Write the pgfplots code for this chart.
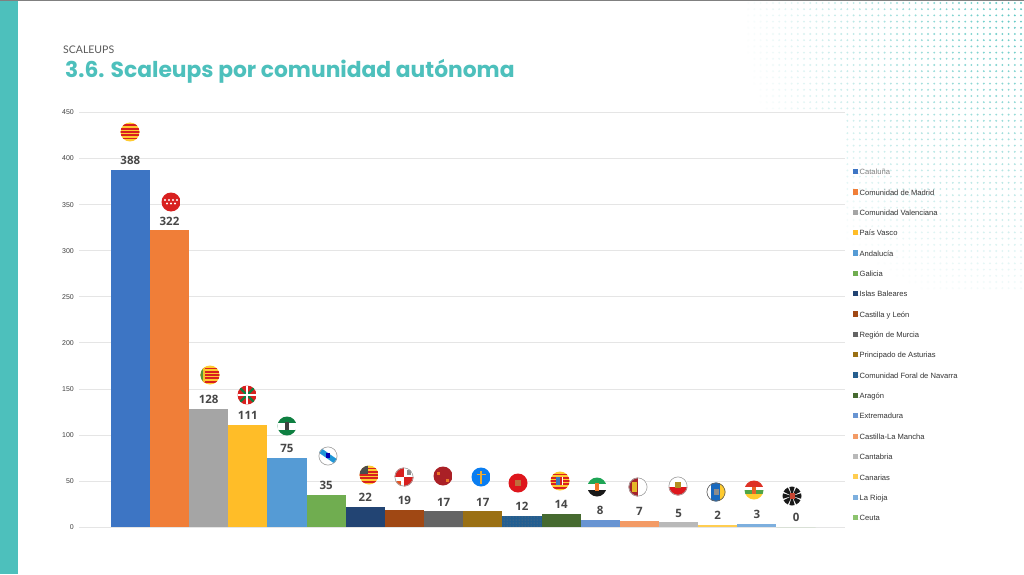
\documentclass[border=0pt]{standalone}
\usepackage{fontspec}
\setmainfont{Liberation Sans}
\newfontfamily\titlefont{Poppins}
\newfontfamily\subfont{Lato}
\newfontfamily\labfont{Open Sans}
\usepackage{pgfplots}
\pgfplotsset{compat=1.18}
\usetikzlibrary{patterns}
\definecolor{teal1}{HTML}{4DC0BC}
\definecolor{dotc}{HTML}{45BFBA}
\definecolor{fr}{HTML}{D8201F}
\definecolor{fy}{HTML}{FFCB2E}
\definecolor{fg}{HTML}{0E7F41}
\definecolor{galb}{RGB}{30,150,215}
\definecolor{ast}{RGB}{10,125,240}
\definecolor{astg}{RGB}{235,170,50}
\definecolor{nav}{RGB}{222,22,28}
\definecolor{navg}{RGB}{190,110,60}
\definecolor{mur}{RGB}{170,32,38}
\definecolor{arab}{RGB}{60,120,190}
\definecolor{extg}{RGB}{30,165,85}
\definecolor{clm}{RGB}{165,35,45}
\definecolor{canb}{RGB}{25,105,190}
\definecolor{rior}{RGB}{222,50,38}
\definecolor{riog}{RGB}{80,165,70}
\definecolor{ceur}{RGB}{200,70,50}
\newcommand{\flag}[3]{\begin{scope}[shift={(#1,574-#2)}]
\begin{scope}\clip (0,0) circle (9.5);
\fill[white] (-10,-10) rectangle (10,10);
#3
\end{scope}
\end{scope}}
\newcommand{\ring}{\draw[black!35,line width=0.7pt] (0,0) circle (9.1);}
\newcommand{\stripes}{\fill[fy] (-10,-10) rectangle (10,10);
\foreach \s in {-6.6,-3.3,0,3.3,6.6}{\fill[fr] (-10,\s-0.9) rectangle (10,\s+0.9);}}
\begin{document}
\begin{tikzpicture}[x=1pt,y=1pt]
\path[fill=white] (0,0) rectangle (1024,574);
% halftone
\foreach \i in {0,...,44}{
 \foreach \j in {0,...,46}{
  \pgfmathsetmacro{\px}{1021-6.2*\i}
  \pgfmathsetmacro{\py}{3+6.2*\j}
  \pgfmathsetmacro{\dd}{sqrt(((1024-\px)/285)^2+(\py/315)^2)}
  \pgfmathsetmacro{\aa}{max(0,90*(1-\dd))}
  \pgfmathparse{\aa>1.5?1:0}
  \ifnum\pgfmathresult=1
   \fill[dotc!\aa!white] (\px,574-\py) circle (1.05);
  \fi
 }
}
\fill[white] (18,0) rectangle (846,462);
\fill[teal1] (0,0) rectangle (18,574);
\fill[black!50] (0,573) rectangle (1024,574);
\node[anchor=base west,inner sep=0,font=\subfont\fontsize{10.5}{12}\selectfont,text=black!65] at (63,520) {SCALEUPS};
\node[anchor=base west,inner sep=0,font=\titlefont\bfseries\fontsize{21.8}{26}\selectfont,text=teal1] at (65,496) {3.6. Scaleups por comunidad autónoma};
\begin{scope}[shift={(79,47)}]
\begin{axis}[
 scale only axis,width=766pt,height=414.5pt,
 xmin=-1.31,xmax=18.25,ymin=0,ymax=450,
 ytick={0,50,...,450},xtick=\empty,
 axis line style={draw=none},
 tick style={draw=none},
 ymajorgrids,grid style={black!10,line width=0.6pt},
 /pgf/number format/assume math mode=true,
 yticklabel style={font=\fontsize{7}{8}\selectfont,text=black!75,inner sep=0pt,xshift=-5pt},
 ybar=0pt,bar width=1,
 every axis plot/.append style={bar shift=0pt,draw=none,
   legend image code/.code={\path[##1,draw=none] (0,-0.9pt) rectangle (5.2pt,4.3pt);\path (0,0) -- (6.6pt,0);}},
 nodes near coords,
 every node near coord/.style={font=\labfont\bfseries\fontsize{11.5}{12}\selectfont,text=black!72,anchor=south,inner sep=0pt,yshift=5pt},
 legend style={at={(rel axis cs:0,0)},anchor=south west,xshift=774pt,yshift=3.3pt,draw=none,fill=none,inner sep=0pt,outer sep=0pt,
   row sep=11.35pt,font=\fontsize{7.6}{9}\selectfont,text=black!80,
   nodes={inner sep=0pt,text height=6pt,text depth=3pt}},
 legend cell align=left,
 legend columns=1,
]
\addplot[fill={rgb,255:red,61;green,117;blue,196}] coordinates {(0,388)};
\addplot[fill={rgb,255:red,240;green,126;blue,56}] coordinates {(1,322)};
\addplot[fill={rgb,255:red,165;green,165;blue,165}] coordinates {(2,128)};
\addplot[fill={rgb,255:red,255;green,189;blue,40}] coordinates {(3,111)};
\addplot[fill={rgb,255:red,85;green,155;blue,213}] coordinates {(4,75)};
\addplot[fill={rgb,255:red,112;green,173;blue,80}] coordinates {(5,35)};
\addplot[fill={rgb,255:red,34;green,68;blue,115}] coordinates {(6,22)};
\addplot[fill={rgb,255:red,160;green,72;blue,20}] coordinates {(7,19)};
\addplot[fill={rgb,255:red,100;green,100;blue,100}] coordinates {(8,17)};
\addplot[fill={rgb,255:red,154;green,112;blue,20}] coordinates {(9,17)};
\addplot[fill={rgb,255:red,34;green,94;blue,145},postaction={pattern=dots,pattern color=black!55}] coordinates {(10,12)};
\addplot[fill={rgb,255:red,70;green,106;blue,48}] coordinates {(11,14)};
\addplot[fill={rgb,255:red,104;green,148;blue,210}] coordinates {(12,8)};
\addplot[fill={rgb,255:red,243;green,155;blue,102}] coordinates {(13,7)};
\addplot[fill={rgb,255:red,185;green,185;blue,185}] coordinates {(14,5)};
\addplot[fill={rgb,255:red,255;green,205;blue,80}] coordinates {(15,2)};
\addplot[fill={rgb,255:red,125;green,175;blue,222}] coordinates {(16,3)};
\addplot[fill={rgb,255:red,140;green,195;blue,110}] coordinates {(17,0)};
\legend{\textcolor{black!50}{Cataluña},Comunidad de Madrid,Comunidad Valenciana,País Vasco,Andalucía,Galicia,Islas Baleares,Castilla y León,Región de Murcia,Principado de Asturias,Comunidad Foral de Navarra,Aragón,Extremadura,Castilla-La Mancha,Cantabria,Canarias,La Rioja,Ceuta}
\end{axis}
\end{scope}
% flags
\flag{130}{132}{\stripes}
\flag{171}{202}{\fill[fr] (-10,-10) rectangle (10,10);
 \foreach \s in {-6,-2,2,6}{\fill[white] (\s,2) circle (1.1);}
 \foreach \s in {-4,0,4}{\fill[white] (\s,-1.5) circle (1.1);}}
\flag{210}{375}{\stripes \fill[black!5!fy] (-10,-10) rectangle (-5.5,10);\fill[fg!70!fy] (-10,-10) rectangle (-7,10);}
\flag{247}{395}{\fill[fr] (-10,-10) rectangle (10,10);
 \draw[fg,line width=2.4pt] (-10,-10)--(10,10) (-10,10)--(10,-10);
 \draw[white,line width=2.2pt] (-10,0)--(10,0) (0,-10)--(0,10);}
\flag{287}{426}{\fill[fg] (-10,-10) rectangle (10,10);\fill[white] (-10,-3.5) rectangle (10,3.5);
 \fill[black!75] (-1.8,-4) rectangle (1.8,4);}
\flag{328}{456}{\draw[line width=5pt,galb] (-10,7)--(10,-7);
 \fill[blue!70!black] (-2.5,-2) rectangle (2,3.5); \ring}
\flag{369}{475}{\stripes \fill[black!70] (-10,1) rectangle (-1,10);}
\flag{404}{477}{\fill[fr] (-10,0) rectangle (0,10);\fill[fr] (0,-10) rectangle (10,0);
 \fill[fr!70!fy] (-9,-9) rectangle (-3,-4);\fill[black!45] (3,2) rectangle (7,7);\ring}
\flag{443}{476}{\fill[mur] (-10,-10) rectangle (10,10);
 \fill[fr!50!fy] (-6,1) rectangle (-3,4);\fill[fr!50!fy] (3,-6) rectangle (6,-3);}
\flag{481}{477}{\fill[ast] (-10,-10) rectangle (10,10);
 \draw[astg,line width=1.1pt] (0,-6.5)--(0,6.5) (-4.5,2.5)--(4.5,2.5);}
\flag{518}{483}{\fill[nav] (-10,-10) rectangle (10,10);
 \fill[navg] (-3,-3) rectangle (3,3.5);}
\flag{560}{481}{\stripes \fill[arab] (-4,-4) rectangle (0,4);\fill[white] (-0.5,-4) rectangle (3,4);\fill[fr] (0.3,-4) rectangle (2.2,4);}
\flag{597}{487}{\fill[extg] (-10,3) rectangle (10,10);\fill[black!90] (-10,-10) rectangle (10,-3);
 \fill[fr!50!fy] (-2,-3.5) rectangle (2,4);}
\flag{638}{487}{\fill[clm] (-10,-10) rectangle (0,10);
 \fill[fy!90!black] (-6,-5) rectangle (-1,5);\ring}
\flag{678}{486}{\fill[nav] (-10,-10) rectangle (10,-0.5);
 \fill[fy!70!black] (-3,-1.5) rectangle (3,4.5);\ring}
\flag{716}{492}{\fill[canb] (-5,-10) rectangle (4,10);\fill[fy] (4,-10) rectangle (10,10);
 \fill[black!45] (-2.5,-3) rectangle (2.5,3);\draw[black!60,line width=0.7pt] (0,0) circle (9.1);}
\flag{754}{490}{\fill[rior] (-10,3) rectangle (10,10);\fill[riog] (-10,-4) rectangle (10,0);\fill[fy] (-10,-10) rectangle (10,-4);
 \fill[fr!60!fy] (-2,-4) rectangle (2,3);}
\flag{792}{496}{\fill[black!90] (0,0) -- (-3,10) -- (3,10) -- cycle;\fill[black!90] (0,0) -- (-3,-10) -- (3,-10) -- cycle;
 \fill[black!90] (0,0) -- (-10,3) -- (-10,-3) -- cycle;\fill[black!90] (0,0) -- (10,3) -- (10,-3) -- cycle;
 \fill[black!90] (0,0) -- (5,10) -- (10,5) -- cycle;\fill[black!90] (0,0) -- (-5,10) -- (-10,5) -- cycle;
 \fill[black!90] (0,0) -- (5,-10) -- (10,-5) -- cycle;\fill[black!90] (0,0) -- (-5,-10) -- (-10,-5) -- cycle;
 \fill[ceur] (-2.5,-3) rectangle (2.5,3);}
\end{tikzpicture}
\end{document}
